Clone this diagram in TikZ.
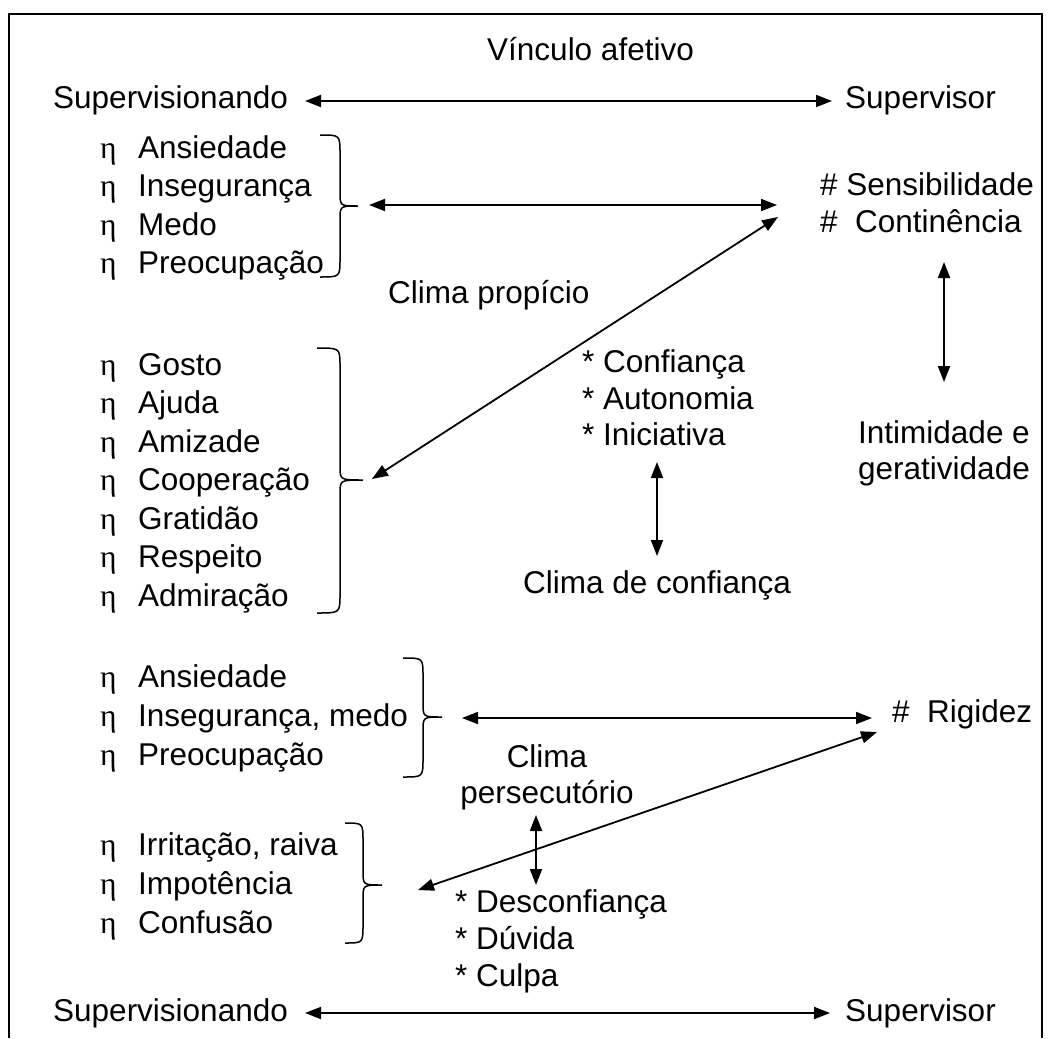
\documentclass[tikz,border=0pt]{standalone}
\usepackage{fontspec}
\setmainfont{Liberation Sans}
\newfontfamily\etafont{Liberation Serif}
\usetikzlibrary{arrows.meta}
% item with a leading eta marker
\newcommand\eit[1]{\makebox[38pt][l]{\etafont η}#1}
% right curly brace: hook x, stem x, tip x, top y, tip y, bottom y
\newcommand\grpbrace[6]{%
  \draw[bracestyle] (#1,#4) .. controls ({#2},{#4}) and ({#2},{#4}) .. ({#2},{#4+18})
    -- ({#2},{#5-14}) .. controls ({#2},{#5}) and ({#2},{#5}) .. (#3,#5)
    .. controls ({#2},{#5}) and ({#2},{#5}) .. ({#2},{#5+14})
    -- ({#2},{#6-18}) .. controls ({#2},{#6}) and ({#2},{#6}) .. (#1,#6);}
\begin{document}
\begin{tikzpicture}[x=1pt,y=-1pt,
  txt/.style={anchor=base west,inner sep=0pt,font=\fontsize{31.5}{38}\selectfont},
  ctxt/.style={anchor=base,inner sep=0pt,font=\fontsize{31.5}{38}\selectfont},
  link/.style={line width=1.8pt,{Triangle[length=16pt,width=12pt]}-{Triangle[length=16pt,width=12pt]}},
  bracestyle/.style={line width=1.5pt},
  frame/.style={line width=2.2pt}]
\useasboundingbox (0,0) rectangle (1051,1038);
% open frame
\draw[frame] (9,1038) -- (9,14) -- (1042,14) -- (1042,1038);

% title and the two parties
\node[txt] (titulo) at (487,61) {Vínculo afetivo};
\node[txt] (sup1) at (53,109) {Supervisionando};
\node[txt] (sor1) at (845,109) {Supervisor};
\coordinate (a1l) at (305,101);
\coordinate (a1r) at (832,101);
\draw[link] (a1l) -- (a1r);

% first group of feelings
\node[txt] (l1a) at (100,158) {\eit{Ansiedade}};
\node[txt] (l1b) at (100,196.5) {\eit{Insegurança}};
\node[txt] (l1c) at (100,235) {\eit{Medo}};
\node[txt] (l1d) at (100,273) {\eit{Preocupação}};
\grpbrace{320}{340}{358}{135}{206}{277}
\coordinate (b1) at (369,205);
\coordinate (s1) at (777,205);
\draw[link] (b1) -- (s1);

\node[txt] (sens) at (820,195) {\# Sensibilidade};
\node[txt] (cont) at (820,232) {\#\ \ Continência};
\coordinate (v1t) at (944,262);
\coordinate (v1b) at (944,382);
\draw[link] (v1t) -- (v1b);
\node[ctxt] (int1) at (944,443) {Intimidade e};
\node[ctxt] (int2) at (944,479) {geratividade};

\node[txt] (propicio) at (388,303) {Clima propício};
\node[txt] (conf) at (582,372) {* Confiança};
\node[txt] (auto) at (582,409) {* Autonomia};
\node[txt] (inic) at (582,445) {* Iniciativa};
\coordinate (v2t) at (657,462);
\coordinate (v2b) at (657,556);
\draw[link] (v2t) -- (v2b);
\node[ctxt] (climaconf) at (657,593) {Clima de confiança};

% second group of feelings
\node[txt] (l2a) at (100,375) {\eit{Gosto}};
\node[txt] (l2b) at (100,413.5) {\eit{Ajuda}};
\node[txt] (l2c) at (100,452) {\eit{Amizade}};
\node[txt] (l2d) at (100,490.5) {\eit{Cooperação}};
\node[txt] (l2e) at (100,529) {\eit{Gratidão}};
\node[txt] (l2f) at (100,567.5) {\eit{Respeito}};
\node[txt] (l2g) at (100,606) {\eit{Admiração}};
\grpbrace{317}{340}{363}{348}{480}{613}
\coordinate (b2) at (372,479);
\coordinate (s2) at (778,217);
\draw[link] (b2) -- (s2);

% third group of feelings
\node[txt] (l3a) at (100,687) {\eit{Ansiedade}};
\node[txt] (l3b) at (100,726) {\eit{Insegurança, medo}};
\node[txt] (l3c) at (100,765) {\eit{Preocupação}};
\grpbrace{403}{423}{442}{658}{717}{777}
\coordinate (b3) at (462,718);
\coordinate (s3) at (872,718);
\draw[link] (b3) -- (s3);
\node[txt] (rig) at (892,722) {\#\ \ Rigidez};

\node[ctxt] (persA) at (547,767) {Clima};
\node[ctxt] (persB) at (547,803) {persecutório};
\coordinate (v3t) at (536,815);
\coordinate (v3b) at (536,885);
\draw[link] (v3t) -- (v3b);
\node[txt] (desc) at (455,912) {* Desconfiança};
\node[txt] (duv) at (455,949) {* Dúvida};
\node[txt] (culp) at (455,986) {* Culpa};

% fourth group of feelings
\node[txt] (l4a) at (100,855) {\eit{Irritação, raiva}};
\node[txt] (l4b) at (100,894) {\eit{Impotência}};
\node[txt] (l4c) at (100,933) {\eit{Confusão}};
\grpbrace{345}{363}{382}{823}{885}{943}
\coordinate (b4) at (418,890);
\coordinate (s4) at (877,732);
\draw[link] (b4) -- (s4);

% the two parties again
\node[txt] (sup2) at (53,1021) {Supervisionando};
\node[txt] (sor2) at (845,1021) {Supervisor};
\coordinate (a2l) at (305,1013);
\coordinate (a2r) at (830,1013);
\draw[link] (a2l) -- (a2r);
\end{tikzpicture}
\end{document}
